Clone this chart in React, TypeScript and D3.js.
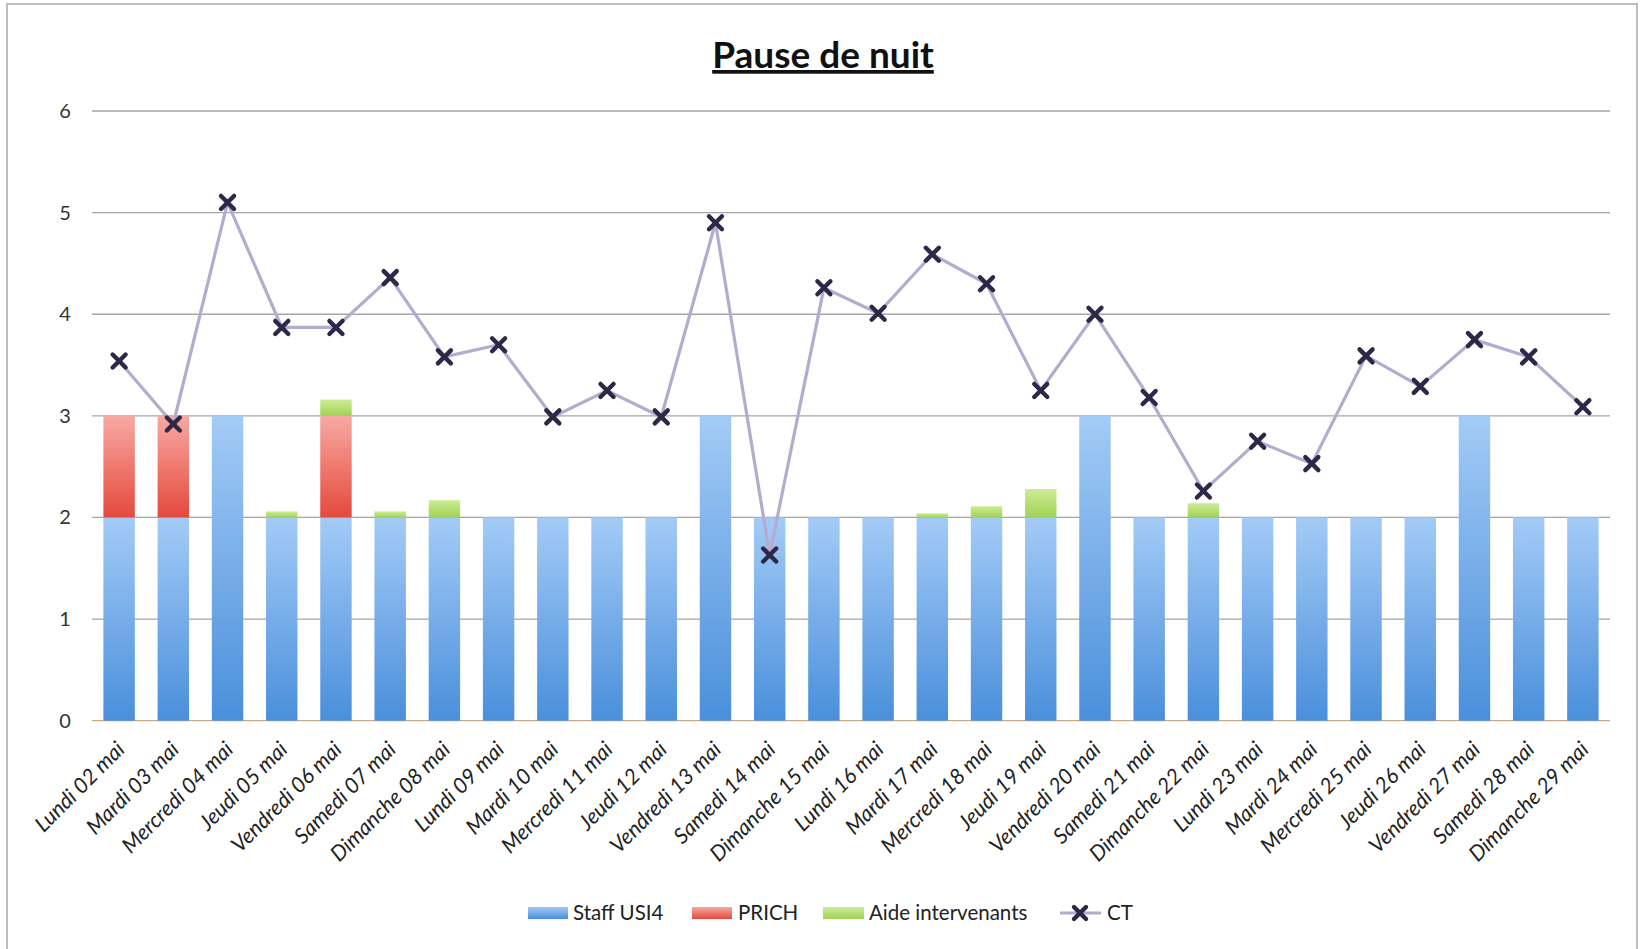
import React from "react";
import * as d3 from "d3";

const days = [
  "Lundi 02 mai", "Mardi 03 mai", "Mercredi 04 mai", "Jeudi 05 mai", "Vendredi 06 mai",
  "Samedi 07 mai", "Dimanche 08 mai", "Lundi 09 mai", "Mardi 10 mai", "Mercredi 11 mai",
  "Jeudi 12 mai", "Vendredi 13 mai", "Samedi 14 mai", "Dimanche 15 mai", "Lundi 16 mai",
  "Mardi 17 mai", "Mercredi 18 mai", "Jeudi 19 mai", "Vendredi 20 mai", "Samedi 21 mai",
  "Dimanche 22 mai", "Lundi 23 mai", "Mardi 24 mai", "Mercredi 25 mai", "Jeudi 26 mai",
  "Vendredi 27 mai", "Samedi 28 mai", "Dimanche 29 mai",
];

const staffUSI4 = [2, 2, 3, 2, 2, 2, 2, 2, 2, 2, 2, 3, 2, 2, 2, 2, 2, 2, 3, 2, 2, 2, 2, 2, 2, 3, 2, 2];
const prich = [1, 1, 0, 0, 1, 0, 0, 0, 0, 0, 0, 0, 0, 0, 0, 0, 0, 0, 0, 0, 0, 0, 0, 0, 0, 0, 0, 0];
const aide = [0, 0, 0, 0.06, 0.16, 0.06, 0.17, 0, 0, 0, 0, 0, 0, 0, 0, 0.04, 0.11, 0.28, 0, 0, 0.14, 0, 0, 0, 0, 0, 0, 0];
const ct = [3.54, 2.92, 5.1, 3.87, 3.87, 4.36, 3.58, 3.7, 2.99, 3.25, 2.99, 4.9, 1.63, 4.26, 4.01,
  4.59, 4.3, 3.25, 4.0, 3.18, 2.26, 2.75, 2.53, 3.59, 3.29, 3.75, 3.58, 3.09];

const yTicks = [0, 1, 2, 3, 4, 5, 6];
const seriesKeys = ["staff", "prich", "aide"];
const legendLabels = ["Staff USI4", "PRICH", "Aide intervenants", "CT"];

const W = 1640;
const H = 949;
const margin = { left: 92, right: 30, top: 111, bottom: 228 };
const FONT = "Lato, 'Open Sans', sans-serif";

export default function App() {
  const x = d3.scaleBand().domain(days).range([margin.left, W - margin.right]).paddingInner(0.42).paddingOuter(0.21);
  const y = d3.scaleLinear().domain([0, 6]).range([H - margin.bottom - 0.3, margin.top]);

  const rows = days.map((d, i) => ({ day: d, staff: staffUSI4[i], prich: prich[i], aide: aide[i] }));
  const stacked = d3.stack<any>().keys(seriesKeys)(rows);

  const cx = (d: string) => (x(d) as number) + x.bandwidth() / 2;
  const line = d3.line<number>().x((_, i) => cx(days[i])).y((v) => y(v));

  const fills: Record<string, string> = { staff: "url(#gBlue)", prich: "url(#gRed)", aide: "url(#gGreen)" };

  const cross = (px: number, py: number, s: number, key: string | number) => (
    <g key={key} stroke="#2d2848" strokeWidth={4.4} strokeLinecap="round">
      <line x1={px - s} y1={py - s} x2={px + s} y2={py + s} />
      <line x1={px - s} y1={py + s} x2={px + s} y2={py - s} />
    </g>
  );

  const legendY = 913;

  return (
    <div style={{ position: "fixed", left: 0, top: 0 }}>
      <svg width={W} height={H} style={{ display: "block", background: "#fff" }} fontFamily={FONT}>
        <defs>
          <linearGradient id="gBlue" x1="0" y1="0" x2="0" y2="1">
            <stop offset="0" stopColor="#a3cbf6" />
            <stop offset="1" stopColor="#4a8fdb" />
          </linearGradient>
          <linearGradient id="gRed" x1="0" y1="0" x2="0" y2="1">
            <stop offset="0" stopColor="#f7a9a3" />
            <stop offset="1" stopColor="#e5493c" />
          </linearGradient>
          <linearGradient id="gGreen" x1="0" y1="0" x2="0" y2="1">
            <stop offset="0" stopColor="#cdec96" />
            <stop offset="1" stopColor="#9fd253" />
          </linearGradient>
        </defs>

        <rect x={7} y={4} width={1630} height={980} fill="#fff" stroke="#bdbdbd" strokeWidth={2} />

        <text x={823} y={68} textAnchor="middle" fontSize={37} fontWeight="bold" fill="#111" textDecoration="underline">
          Pause de nuit
        </text>

        {yTicks.map((t) => (
          <g key={t}>
            <line x1={margin.left} x2={W - margin.right} y1={y(t)} y2={y(t)} stroke={t === 0 ? "#c8ab8c" : "#a5a5a5"} strokeWidth={1.3} />
            <text x={65} y={y(t) + 7} textAnchor="middle" fontSize={20} fill="#333">{t}</text>
          </g>
        ))}

        {stacked.map((s) => (
          <g key={s.key} fill={fills[s.key]}>
            {s.map((d, i) =>
              d[1] - d[0] > 0 ? (
                <rect key={i} x={x(days[i])} width={x.bandwidth()} y={y(d[1])} height={y(d[0]) - y(d[1])} />
              ) : null
            )}
          </g>
        ))}

        <path d={line(ct) || ""} fill="none" stroke="#b4abcf" strokeWidth={3.2} />
        {ct.map((v, i) => cross(cx(days[i]), y(v), 6.5, i))}

        {days.map((d) => (
          <text
            key={d}
            transform={`translate(${cx(d) + 7},${y(0) + 30}) rotate(-45)`}
            textAnchor="end"
            fontSize={21.5}
            fontStyle="italic"
            fill="#222"
          >
            {d}
          </text>
        ))}

        <g fontSize={20.5} fill="#222">
          <rect x={528} y={legendY - 6} width={40} height={12} fill="url(#gBlue)" />
          <text x={573} y={legendY + 7}>{legendLabels[0]}</text>
          <rect x={692} y={legendY - 6} width={40} height={12} fill="url(#gRed)" />
          <text x={738} y={legendY + 7}>{legendLabels[1]}</text>
          <rect x={823} y={legendY - 6} width={41} height={12} fill="url(#gGreen)" />
          <text x={869} y={legendY + 7}>{legendLabels[2]}</text>
          <line x1={1060} x2={1101} y1={legendY} y2={legendY} stroke="#b4abcf" strokeWidth={3.2} />
          {cross(1080, legendY, 6, "lg")}
          <text x={1107} y={legendY + 7}>{legendLabels[3]}</text>
        </g>
      </svg>
    </div>
  );
}
